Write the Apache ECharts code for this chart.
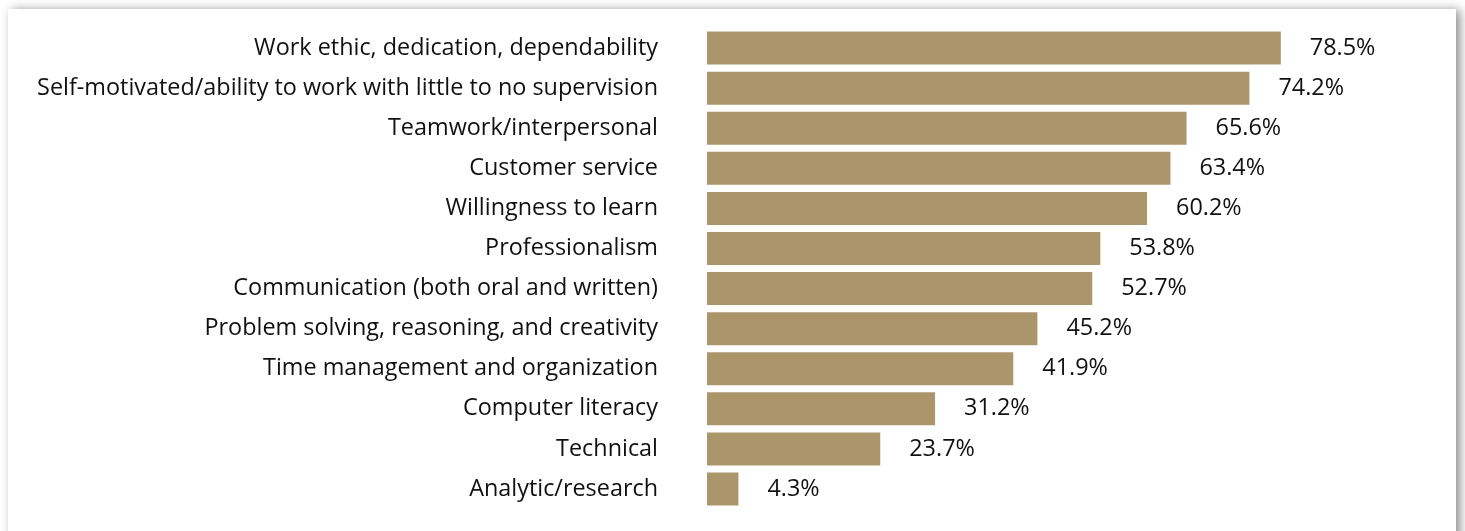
<!DOCTYPE html>
<html>
<head>
<meta charset="utf-8">
<script src="https://cdn.jsdelivr.net/npm/echarts@6/dist/echarts.min.js"></script>
<style>
  html, body { margin: 0; padding: 0; background: #ffffff; }
  #chart { width: 1465px; height: 531px; }
</style>
</head>
<body>
<div id="chart"></div>
<script>
// Skills named by employers, share of respondents (%)
const skills = [
  'Work ethic, dedication, dependability',
  'Self-motivated/ability to work with little to no supervision',
  'Teamwork/interpersonal',
  'Customer service',
  'Willingness to learn',
  'Professionalism',
  'Communication (both oral and written)',
  'Problem solving, reasoning, and creativity',
  'Time management and organization',
  'Computer literacy',
  'Technical',
  'Analytic/research'
];
const shares = [78.5, 74.2, 65.6, 63.4, 60.2, 53.8, 52.7, 45.2, 41.9, 31.2, 23.7, 4.3];

const FONT = '"Open Sans", "Noto Sans", sans-serif';
const chart = echarts.init(document.getElementById('chart'), null, { renderer: 'canvas' });

chart.setOption({
  animation: false,
  backgroundColor: '#ffffff',
  graphic: [{
    type: 'rect',
    z: -10,
    silent: true,
    shape: { x: 8, y: 9, width: 1448, height: 600 },
    style: {
      fill: '#ffffff',
      shadowBlur: 10,
      shadowOffsetX: 4,
      shadowOffsetY: 1,
      shadowColor: 'rgba(0,0,0,0.45)'
    }
  }],
  grid: { left: 707, top: 28, width: 731, height: 481, containLabel: false },
  xAxis: {
    type: 'value',
    min: 0,
    max: 100,
    show: false
  },
  yAxis: {
    type: 'category',
    inverse: true,
    data: skills,
    axisLine: { show: false },
    axisTick: { show: false },
    splitLine: { show: false },
    axisLabel: {
      margin: 49,
      color: '#111111',
      fontFamily: FONT,
      fontSize: 23.4
    }
  },
  series: [{
    type: 'bar',
    data: shares,
    barWidth: 33,
    itemStyle: { color: '#ab966b' },
    label: {
      show: true,
      position: 'right',
      distance: 29,
      color: '#111111',
      fontFamily: FONT,
      fontSize: 23.4,
      formatter: p => p.value.toFixed(1) + '%'
    }
  }]
});
</script>
</body>
</html>
